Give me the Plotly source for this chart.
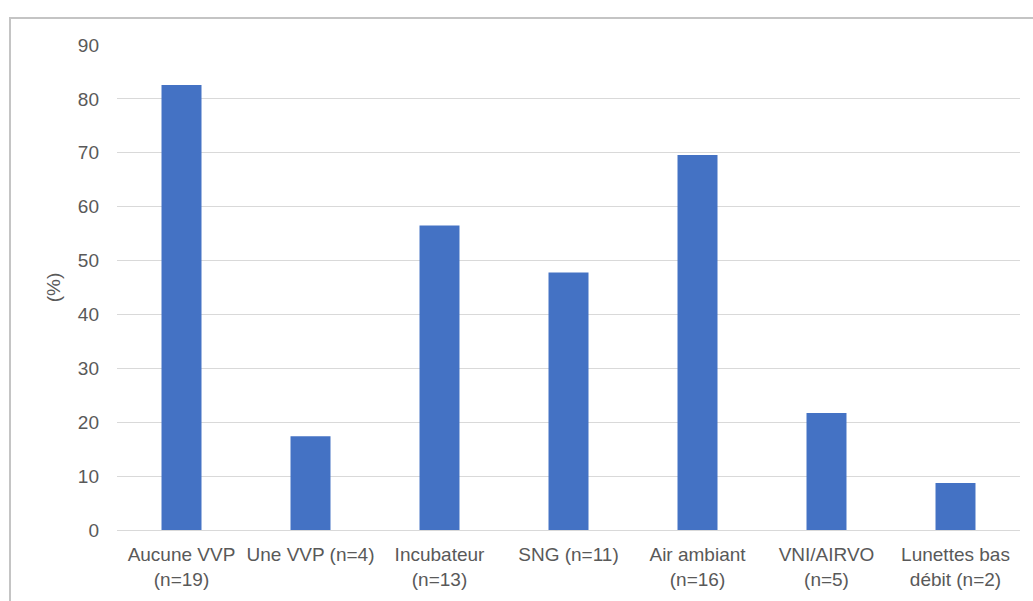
import plotly.graph_objects as go

# Data (n / 23 patients)
categories = [
    "Aucune VVP<br>(n=19)",
    "Une VVP (n=4)",
    "Incubateur<br>(n=13)",
    "SNG (n=11)",
    "Air ambiant<br>(n=16)",
    "VNI/AIRVO<br>(n=5)",
    "Lunettes bas<br>débit (n=2)",
]
percentages = [82.6, 17.4, 56.5, 47.8, 69.6, 21.7, 8.7]
y_ticks = [0, 10, 20, 30, 40, 50, 60, 70, 80, 90]

FONT = "Liberation Sans, Arial, Helvetica, sans-serif"
TEXT_COLOR = "#595959"
FS = 19

fig = go.Figure(
    go.Bar(
        x=categories,
        y=percentages,
        marker=dict(color="#4472c4", line=dict(width=0)),
        width=0.31,
    )
)

fig.update_xaxes(
    showgrid=False,
    showline=True,
    linecolor="#d9d9d9",
    linewidth=1,
    ticks="",
    tickfont=dict(family=FONT, size=FS, color=TEXT_COLOR),
    ticklabelstandoff=7,
)
fig.update_yaxes(
    range=[0, 90],
    tickvals=y_ticks,
    showgrid=True,
    gridcolor="#d9d9d9",
    gridwidth=1,
    zeroline=False,
    showline=False,
    tickfont=dict(family=FONT, size=FS, color=TEXT_COLOR),
    ticklabelstandoff=17,
    title=dict(text="(%)", font=dict(family=FONT, size=FS, color=TEXT_COLOR), standoff=12),
)

# Outer chart frame (partially cut off like the screenshot)
fig.add_shape(
    type="rect", xref="paper", yref="paper",
    x0=-0.1185, x1=1.05, y0=-0.2, y1=1.0557,
    line=dict(color="#c4c4c4", width=2),
    fillcolor="rgba(0,0,0,0)",
)

fig.update_layout(
    width=1033,
    height=601,
    margin=dict(l=117, r=13, t=45, b=71),
    plot_bgcolor="white",
    paper_bgcolor="white",
    showlegend=False,
    bargap=0.69,
    font=dict(family=FONT, color=TEXT_COLOR),
)

fig.write_html(
    "out.html",
    config={"displayModeBar": False},
    post_script="document.body.style.margin='0';",
)
